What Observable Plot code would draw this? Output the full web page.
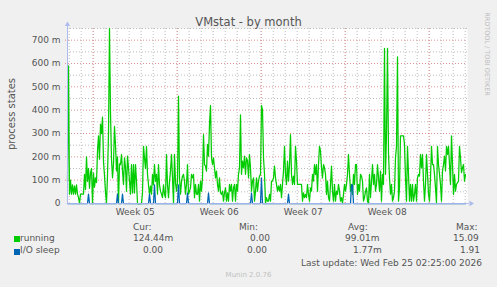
<!DOCTYPE html>
<html><head><meta charset="utf-8">
<script src="https://cdn.jsdelivr.net/npm/d3@7"></script>
<script src="https://cdn.jsdelivr.net/npm/@observablehq/plot@0.6"></script>
<style>
html,body{margin:0;padding:0;background:#f0f0f0;}
#wrap{position:relative;width:497px;height:287px;overflow:hidden;font-family:"DejaVu Sans",sans-serif;color:#555;}
#wrap .t{position:absolute;white-space:pre;font-size:9px;line-height:11px;}
#chart{position:absolute;left:0;top:0;}
.sq{position:absolute;width:6px;height:6px;}
</style></head><body>
<div id="wrap">
<div id="chart"></div>
<div class="t" style="left:0;width:497px;top:15px;text-align:center;font-size:11.5px;line-height:14px;">VMstat - by month</div>
<div class="t" style="left:-38.5px;top:108px;width:100px;text-align:center;font-size:10px;line-height:12px;transform:rotate(-90deg);">process states</div>
<div class="t" style="left:437px;top:50px;width:100px;text-align:center;font-size:6.5px;line-height:8px;color:#bdbdbd;transform:rotate(90deg);">RRDTOOL / TOBI OETIKER</div>
<div class="t" style="left:133px;top:222px;">Cur:</div>
<div class="t" style="left:239px;top:222px;">Min:</div>
<div class="t" style="left:348px;top:222px;">Avg:</div>
<div class="t" style="left:456px;top:222px;">Max:</div>
<div class="sq" style="left:14px;top:236px;background:#00cc00;"></div>
<div class="t" style="left:20px;top:233px;">running</div>
<div class="t" style="left:133px;top:233px;">124.44m</div>
<div class="t" style="left:250px;top:233px;">0.00</div>
<div class="t" style="left:345px;top:233px;">99.01m</div>
<div class="t" style="left:453px;top:233px;">15.09</div>
<div class="sq" style="left:14px;top:249px;background:#0066b3;"></div>
<div class="t" style="left:20px;top:245px;">I/O sleep</div>
<div class="t" style="left:143px;top:245px;">0.00</div>
<div class="t" style="left:247px;top:245px;">0.00</div>
<div class="t" style="left:353px;top:245px;">1.77m</div>
<div class="t" style="left:460px;top:245px;">1.91</div>
<div class="t" style="right:15px;top:258px;">Last update: Wed Feb 25 02:25:00 2026</div>
<div class="t" style="left:0;width:497px;text-align:center;top:271px;font-size:7px;line-height:9px;color:#c0c0c0;">Munin 2.0.76</div>
</div>
<script>
// time origin of the first sample, 2-hour step
const startTime = Date.UTC(2026, 0, 23, 20, 36);
const stepHours = 2;
const spanHours = 800;

// running processes (milli-units), one value every 2 hours
const running = [
 95,590,40,100,40,80,40,75,40,80,
 40,25,0,40,40,40,40,125,60,200,
 95,150,65,130,150,0,130,70,110,90,
 225,290,190,340,300,370,180,120,50,0,
 120,300,750,390,190,110,170,330,250,140,
 200,0,170,167,210,139,82,196,153,53,
 203,153,96,40,167,45,167,45,167,95,
 0,0,0,0,0,45,245,195,150,245,
 125,80,40,75,40,125,80,167,95,125,
 40,167,80,53,40,25,80,40,25,210,
 80,25,95,139,210,110,0,210,88,53,
 95,460,110,40,95,117,125,95,40,82,
 167,40,53,67,125,110,125,25,82,40,
 39,82,10,96,53,110,295,167,160,139,
 253,203,340,420,196,167,196,153,110,139,
 82,53,110,46,39,53,10,46,67,10,
 46,10,82,53,82,10,67,82,10,82,
 53,125,153,380,125,182,153,203,125,196,
 182,110,210,153,53,96,110,10,53,110,
 53,96,117,125,420,400,196,125,0,25,
 10,10,39,10,96,96,110,160,110,82,
 53,75,53,82,25,82,139,245,125,82,
 182,96,167,295,125,82,117,82,245,182,
 82,82,82,82,82,10,46,25,39,25,
 82,39,10,67,53,125,96,167,125,167,
 53,167,245,225,153,110,167,153,125,39,
 96,25,10,82,160,53,10,82,10,53,
 39,82,53,10,25,0,39,82,53,82,
 125,210,125,53,82,39,125,82,167,167,
 39,82,53,125,117,96,10,25,53,67,
 10,0,125,25,96,167,82,125,53,82,
 167,110,53,139,10,125,82,665,125,300,
 665,215,110,40,82,10,25,53,196,245,
 628,10,67,290,290,290,290,253,110,10,
 245,125,10,82,10,82,10,39,82,10,
 110,125,117,210,153,210,96,10,82,210,
 125,39,10,110,245,167,167,125,67,0,
 245,167,125,82,10,139,167,203,139,245,
 210,245,167,82,290,167,39,125,53,82,
 89,96,245,196,132,153,167,96,124
];

// I/O sleep (milli-units), same sampling
const ioSleep = [
 0,0,0,0,0,0,0,0,0,0,0,0,0,0,0,0,0,0,0,0,
 0,40,0,0,0,0,0,0,0,0,0,0,0,0,0,0,0,0,0,0,
 0,0,0,0,0,0,0,0,0,0,40,0,0,0,0,40,0,0,0,0,
 0,0,0,0,0,0,0,0,0,0,0,0,0,0,0,0,0,0,0,0,
 0,0,40,0,0,0,0,80,0,0,0,0,0,0,0,0,0,0,0,0,
 0,0,0,0,0,0,0,0,0,0,0,80,0,0,0,0,0,0,0,0,
 45,0,0,0,0,0,0,0,0,0,0,0,0,0,0,0,0,0,0,0,
 0,45,0,0,0,0,0,0,0,0,0,0,0,0,0,0,0,0,0,0,
 0,0,0,0,0,0,0,0,0,0,0,0,0,0,0,0,0,0,0,0,
 0,0,0,0,45,0,0,0,0,0,0,0,0,0,110,0,0,0,0,0,
 0,0,0,0,0,0,0,0,0,0,0,0,0,0,0,0,0,0,0,0,
 0,40,0,0,0,0,0,0,0,0,0,0,0,0,0,0,0,0,0,0,
 0,0,0,0,0,0,0,0,0,0,0,0,0,0,0,0,0,0,0,0,
 0,0,0,0,0,0,0,0,0,0,0,0,0,0,0,0,0,0,0,0,
 0,0,0,0,80,80,0,0,0,0,0,0,0,0,0,0,0,0,0,0,
 0,0,0,0,0,0,0,0,0,0,0,0,0,0,0,0,0,0,0,0,
 0,0,0,0,0,0,0,0,0,0,0,0,0,0,0,0,0,0,0,0,
 0,0,0,0,0,0,0,0,0,0,0,0,0,0,0,0,0,0,0,0,
 0,0,0,0,0,0,0,0,0,0,0,0,0,0,0,0,0,0,0,0,
 0,0,0,0,0,0,0,0,0,0,0,0,0,0,0,0,0,0,0
];

const weekStarts = ["2026-01-26","2026-02-02","2026-02-09","2026-02-16","2026-02-23"];
const weekLabelAt = ["2026-01-29T12:00Z","2026-02-05T12:00Z","2026-02-12T12:00Z","2026-02-19T12:00Z"];
const weekLabels = ["Week 05","Week 06","Week 07","Week 08"];
const yMajor = [0,0.1,0.2,0.3,0.4,0.5,0.6,0.7];
const yMinor = [0.05,0.15,0.25,0.35,0.45,0.55,0.65,0.75];
const yLabels = ["0","100 m","200 m","300 m","400 m","500 m","600 m","700 m"];

const H = 3600e3;
const t0 = new Date(startTime);
const t1 = new Date(startTime + spanHours * H);
const rows = running.map((v, i) => ({t: new Date(startTime + i * stepHours * H), running: v / 1000, io: ioSleep[i] / 1000}));
const weekStartDates = weekStarts.map(s => new Date(s + "T00:00Z"));
const weekMidDates = weekLabelAt.map(s => new Date(s));
const days = d3.utcDay.range(t0, t1);

const axisCol = "#aebbef";
const chart = Plot.plot({
  width: 497, height: 230,
  marginLeft: 67, marginRight: 30, marginTop: 28, marginBottom: 27,
  style: {background: "transparent", fontFamily: "DejaVu Sans", fontSize: "9px", color: "#555", overflow: "visible"},
  x: {type: "utc", domain: [t0, t1], axis: null},
  y: {domain: [0, 0.75], axis: null},
  marks: [
    Plot.frame({fill: "#ffffff", stroke: null}),
    Plot.ruleY(yMinor, {stroke: "#bdbdbd", strokeDasharray: "1,2"}),
    Plot.ruleX(days, {stroke: "#bdbdbd", strokeDasharray: "1,2", insetBottom: -2}),
    Plot.ruleY(yMajor.slice(1), {stroke: "#e39494", strokeDasharray: "1,2", insetLeft: -2}),
    Plot.ruleX(weekStartDates, {stroke: "#e39494", strokeDasharray: "1,2", insetBottom: -2}),
    Plot.line(rows, {x: "t", y: "running", stroke: "#00cc00", strokeWidth: 1.25}),
    Plot.line(rows, {x: "t", y: "io", stroke: "#0066b3", strokeWidth: 1.25}),
    Plot.ruleX([t0], {stroke: axisCol, insetTop: -2}),
    Plot.ruleY([0], {stroke: axisCol, insetRight: -2, strokeOpacity: 0.9}),
    Plot.dot([t0], {x: d => d, y: () => 0.75, dy: -4, symbol: "triangle", r: 2, fill: axisCol, stroke: null}),
    Plot.dot([t1], {x: d => d, y: () => 0, dx: 3.5, symbol: "triangle", rotate: 90, r: 2, fill: axisCol, stroke: null}),
    Plot.axisY(yMajor, {tickSize: 0, tickPadding: 7, tickFormat: d => yLabels[yMajor.indexOf(d)], fontSize: 9, fill: "#555", label: null}),
    Plot.axisX(weekMidDates, {tickSize: 0, tickPadding: 5, tickFormat: d => weekLabels[weekMidDates.findIndex(w => +w === +d)], fontSize: 9, fill: "#555", label: null})
  ]
});
document.getElementById("chart").appendChild(chart);
</script>
</body></html>
